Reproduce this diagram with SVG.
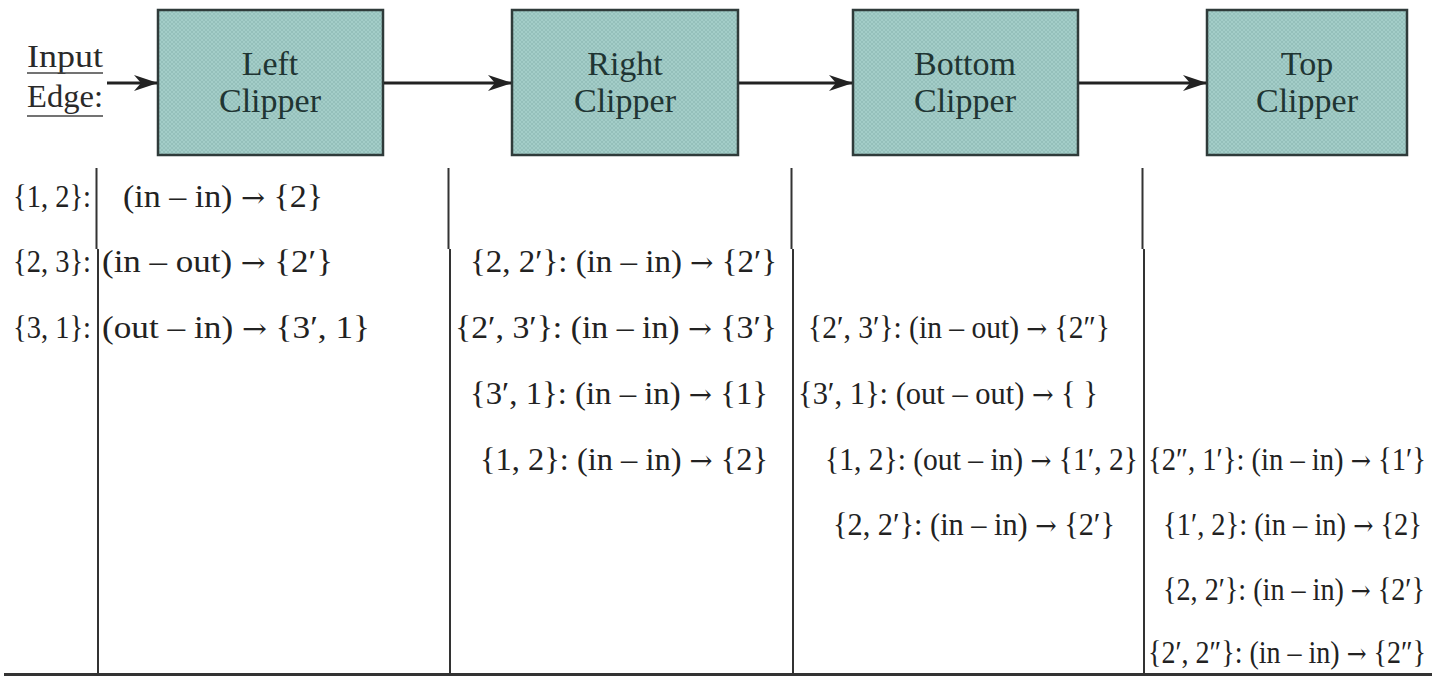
<svg xmlns="http://www.w3.org/2000/svg" width="1432" height="686" viewBox="0 0 1432 686">
<style>
.box{fill:url(#hatch);stroke:#2f3b3a;stroke-width:2.5}
.bt{font-family:"Liberation Serif","Times New Roman",serif;font-size:34px;fill:#1f3533;text-anchor:middle}
.lbl{font-family:"Liberation Serif","Times New Roman",serif;font-size:32px;fill:#2a2a2a}
.t{font-family:"Liberation Serif","Times New Roman",serif;font-size:32px;fill:#222}
.ar{font-family:"DejaVu Serif","DejaVu Sans",serif;font-size:27px}
.conn{stroke:#222;stroke-width:3;fill:none}
.rule{stroke:#333;stroke-width:2;fill:none}
.ul{stroke:#444;stroke-width:1.5}
</style>
<defs>
<pattern id="hatch" width="4" height="4" patternUnits="userSpaceOnUse">
<rect width="4" height="4" fill="#a3cdc8"/>
<path d="M0,4 L4,0 M0,0 L4,4" stroke="#8bb7b2" stroke-width="0.6"/>
</pattern>
<marker id="ah" markerWidth="24" markerHeight="18" refX="23" refY="9" orient="auto" markerUnits="userSpaceOnUse">
<path d="M0,1 L24,9 L0,17 L7,9 Z" fill="#222"/>
</marker>
</defs>
<rect width="1432" height="686" fill="#ffffff"/>

<g id="input-edge">
<text class="lbl" x="27" y="67" textLength="76" lengthAdjust="spacingAndGlyphs">Input</text>
<line class="ul" x1="27" y1="73" x2="103" y2="73"/>
<text class="lbl" x="27" y="107" textLength="76" lengthAdjust="spacingAndGlyphs">Edge:</text>
<line class="ul" x1="27" y1="116" x2="103" y2="116"/>
</g>

<g id="left-clipper">
<rect class="box" x="158" y="10" width="225" height="145"/>
<text class="bt" x="270" y="75">Left</text>
<text class="bt" x="270" y="112">Clipper</text>
</g>
<g id="right-clipper">
<rect class="box" x="512" y="10" width="226" height="145"/>
<text class="bt" x="625" y="75">Right</text>
<text class="bt" x="625" y="112">Clipper</text>
</g>
<g id="bottom-clipper">
<rect class="box" x="853" y="10" width="225" height="145"/>
<text class="bt" x="965" y="75">Bottom</text>
<text class="bt" x="965" y="112">Clipper</text>
</g>
<g id="top-clipper">
<rect class="box" x="1207" y="10" width="200" height="145"/>
<text class="bt" x="1307" y="75">Top</text>
<text class="bt" x="1307" y="112">Clipper</text>
</g>

<g id="connectors">
<line class="conn" x1="107" y1="83" x2="157" y2="83" marker-end="url(#ah)"/>
<line class="conn" x1="384" y1="83" x2="511" y2="83" marker-end="url(#ah)"/>
<line class="conn" x1="739" y1="83" x2="852" y2="83" marker-end="url(#ah)"/>
<line class="conn" x1="1079" y1="83" x2="1206" y2="83" marker-end="url(#ah)"/>
</g>

<g id="table-rules">
<path class="rule" d="M96.5,168 V249 M98,249 V674"/>
<path class="rule" d="M448.5,168 V249 M450,249 V674"/>
<path class="rule" d="M791.5,168 V249 M793,249 V674"/>
<path class="rule" d="M1142.5,168 V249 M1144,249 V674"/>
<line x1="4" y1="674.5" x2="1432" y2="674.5" stroke="#333" stroke-width="3"/>
</g>

<g id="col-input">
<text class="t" x="13" y="207" textLength="78" lengthAdjust="spacingAndGlyphs">{1, 2}:</text>
<text class="t" x="13" y="272" textLength="78" lengthAdjust="spacingAndGlyphs">{2, 3}:</text>
<text class="t" x="13" y="338" textLength="78" lengthAdjust="spacingAndGlyphs">{3, 1}:</text>
</g>

<g id="col-left">
<text class="t" x="123" y="207" textLength="200" lengthAdjust="spacingAndGlyphs">(in – in) <tspan class="ar">→</tspan> {2}</text>
<text class="t" x="102" y="272" textLength="231" lengthAdjust="spacingAndGlyphs">(in – out) <tspan class="ar">→</tspan> {2′}</text>
<text class="t" x="102" y="338" textLength="268" lengthAdjust="spacingAndGlyphs">(out – in) <tspan class="ar">→</tspan> {3′, 1}</text>
</g>

<g id="col-right">
<text class="t" x="470" y="272" textLength="307" lengthAdjust="spacingAndGlyphs">{2, 2′}: (in – in) <tspan class="ar">→</tspan> {2′}</text>
<text class="t" x="455" y="338" textLength="322" lengthAdjust="spacingAndGlyphs">{2′, 3′}: (in – in) <tspan class="ar">→</tspan> {3′}</text>
<text class="t" x="470" y="404" textLength="298" lengthAdjust="spacingAndGlyphs">{3′, 1}: (in – in) <tspan class="ar">→</tspan> {1}</text>
<text class="t" x="480" y="470" textLength="288" lengthAdjust="spacingAndGlyphs">{1, 2}: (in – in) <tspan class="ar">→</tspan> {2}</text>
</g>

<g id="col-bottom">
<text class="t" x="808" y="338" textLength="302" lengthAdjust="spacingAndGlyphs">{2′, 3′}: (in – out) <tspan class="ar">→</tspan> {2″}</text>
<text class="t" x="798" y="404" textLength="300" lengthAdjust="spacingAndGlyphs">{3′, 1}: (out – out) <tspan class="ar">→</tspan> { }</text>
<text class="t" x="825" y="470" textLength="313" lengthAdjust="spacingAndGlyphs">{1, 2}: (out – in) <tspan class="ar">→</tspan> {1′, 2}</text>
<text class="t" x="833" y="535" textLength="282" lengthAdjust="spacingAndGlyphs">{2, 2′}: (in – in) <tspan class="ar">→</tspan> {2′}</text>
</g>

<g id="col-top">
<text class="t" x="1148" y="470" textLength="278" lengthAdjust="spacingAndGlyphs">{2″, 1′}: (in – in) <tspan class="ar">→</tspan> {1′}</text>
<text class="t" x="1163" y="535" textLength="259" lengthAdjust="spacingAndGlyphs">{1′, 2}: (in – in) <tspan class="ar">→</tspan> {2}</text>
<text class="t" x="1163" y="600" textLength="262" lengthAdjust="spacingAndGlyphs">{2, 2′}: (in – in) <tspan class="ar">→</tspan> {2′}</text>
<text class="t" x="1148" y="663" textLength="278" lengthAdjust="spacingAndGlyphs">{2′, 2″}: (in – in) <tspan class="ar">→</tspan> {2″}</text>
</g>
</svg>
